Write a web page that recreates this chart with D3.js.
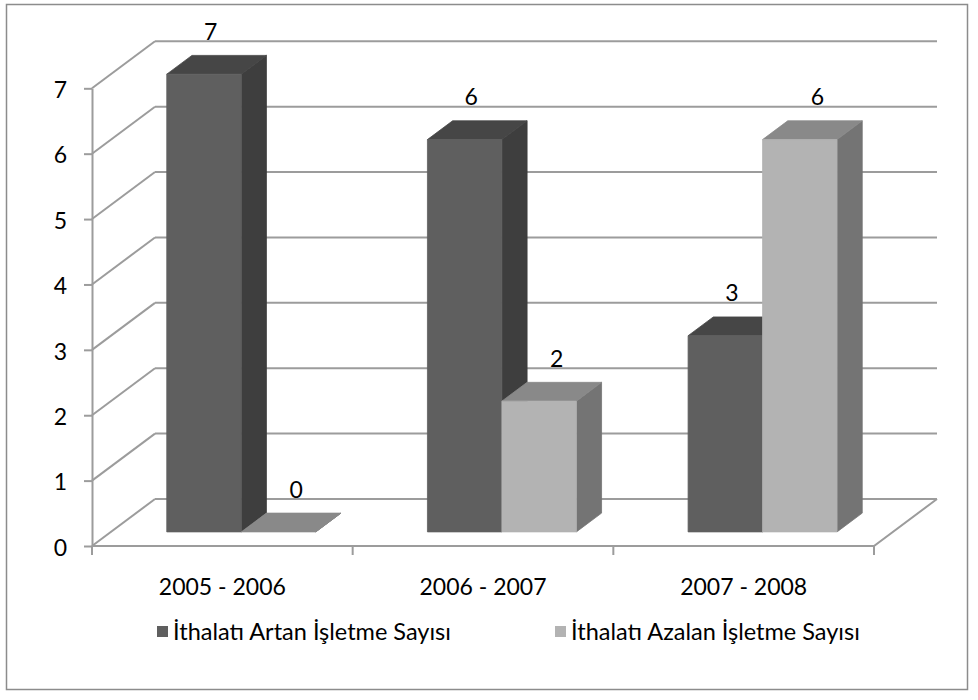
<!DOCTYPE html>
<html>
<head>
<meta charset="utf-8">
<script src="https://cdn.jsdelivr.net/npm/d3@7/dist/d3.min.js"></script>
<style>
  html, body { margin: 0; padding: 0; background: #fff; }
  text { font-family: Lato, "Noto Sans", sans-serif; fill: #000; }
</style>
</head>
<body>
<svg id="chart" width="978" height="700"></svg>
<script>
// Data
const categories = ["2005 - 2006", "2006 - 2007", "2007 - 2008"];
const seriesNames = ["İthalatı Artan İşletme Sayısı", "İthalatı Azalan İşletme Sayısı"];
const artan = [7, 6, 3];
const azalan = [0, 2, 6];
const yTicks = [0, 1, 2, 3, 4, 5, 6, 7];

const seriesValues = [artan, azalan];

// Face colours per series: front, top, side
const palette = [
  { front: "#5f5f5f", top: "#464646", side: "#3e3e3e" },
  { front: "#b3b3b3", top: "#898989", side: "#747474" }
];
const gridColor = "#9c9c9c";

const svg = d3.select("#chart");

// Outer chart border
svg.append("rect")
  .attr("x", 6.5).attr("y", 4.5).attr("width", 961).attr("height", 685)
  .attr("fill", "#fff").attr("stroke", "#8c8c8c").attr("stroke-width", 1.5);

// Oblique projection: front plane + depth offset
const depthX = 63, depthY = -47;
const x = d3.scaleBand().domain(categories).range([92, 874]).paddingInner(0).paddingOuter(0);
const xs = d3.scaleBand().domain(d3.range(seriesNames.length)).range([0, x.bandwidth()])
  .paddingInner(0).paddingOuter(0.75);
const y = d3.scaleLinear().domain([0, 7]).range([546, 88.3]);

// project a point (px at front, value v, depth fraction d)
const P = (px, v, d) => [px + d * depthX, y(v) + d * depthY];

const g = svg.append("g");

// Back wall gridlines
g.selectAll("line.back").data(yTicks).join("line")
  .attr("x1", d => P(x.range()[0], d, 1)[0]).attr("y1", d => P(0, d, 1)[1])
  .attr("x2", d => P(x.range()[1], d, 1)[0]).attr("y2", d => P(0, d, 1)[1])
  .attr("stroke", gridColor).attr("stroke-width", 2);

// Side wall gridlines
g.selectAll("line.side").data(yTicks).join("line")
  .attr("x1", d => P(x.range()[0], d, 0)[0]).attr("y1", d => P(0, d, 0)[1])
  .attr("x2", d => P(x.range()[0], d, 1)[0]).attr("y2", d => P(0, d, 1)[1])
  .attr("stroke", gridColor).attr("stroke-width", 2);

// Floor outline (front edge and right edge)
const fl = [P(x.range()[0], 0, 0), P(x.range()[1], 0, 0), P(x.range()[1], 0, 1)];
g.append("path").attr("d", d3.line()(fl))
  .attr("fill", "none").attr("stroke", gridColor).attr("stroke-width", 2);

// Category ticks at band boundaries
const bounds = categories.map(c => x(c)).concat([x.range()[1]]);
g.selectAll("line.ctick").data(bounds).join("line")
  .attr("x1", d => d).attr("x2", d => d)
  .attr("y1", y(0)).attr("y2", y(0) + 9)
  .attr("stroke", gridColor).attr("stroke-width", 2);

// Value axis
const yAxis = d3.axisLeft(y).tickValues(yTicks).tickFormat(d3.format("d"))
  .tickSize(8).tickSizeOuter(0).tickPadding(17);
const ya = g.append("g").attr("transform", `translate(${x.range()[0]},0)`).call(yAxis);
ya.select(".domain").attr("stroke", gridColor).attr("stroke-width", 2);
ya.selectAll(".tick line").attr("stroke", gridColor).attr("stroke-width", 2);
ya.selectAll(".tick text").attr("font-size", 23).attr("font-family", "Lato, sans-serif")
  .attr("fill", "#000").attr("dy", "0.4em");

// Category labels
const xAxis = d3.axisBottom(x).tickSize(0).tickPadding(33);
const xa = g.append("g").attr("transform", `translate(0,${y(0)})`).call(xAxis);
xa.select(".domain").remove();
xa.selectAll(".tick text").attr("font-size", 23).attr("font-family", "Lato, sans-serif")
  .attr("fill", "#000");

// Bars (drawn left to right so neighbours cover side faces)
const bars = [];
categories.forEach((c, ci) => {
  seriesValues.forEach((vals, si) => {
    bars.push({ c, ci, si, v: vals[ci] });
  });
});

const d0 = 0.3, d1 = 0.7;
const barG = g.append("g");
bars.forEach(b => {
  const xl = x(b.c) + xs(b.si), xr = xl + xs.bandwidth();
  const col = palette[b.si];
  const grp = barG.append("g");
  // side face
  grp.append("path").attr("d", d3.line()([P(xr, 0, d0), P(xr, 0, d1), P(xr, b.v, d1), P(xr, b.v, d0)]) + "Z")
    .attr("fill", col.side).attr("stroke", col.side).attr("stroke-width", 0.8);
  // top face
  grp.append("path").attr("d", d3.line()([P(xl, b.v, d0), P(xr, b.v, d0), P(xr, b.v, d1), P(xl, b.v, d1)]) + "Z")
    .attr("fill", col.top).attr("stroke", col.top).attr("stroke-width", 0.8);
  // front face
  if (b.v > 0) {
    grp.append("path").attr("d", d3.line()([P(xl, 0, d0), P(xr, 0, d0), P(xr, b.v, d0), P(xl, b.v, d0)]) + "Z")
      .attr("fill", col.front).attr("stroke", col.front).attr("stroke-width", 0.8);
  }
});

// Value labels above each bar's top face
const labelDx = [-6, 5];
g.selectAll("text.val").data(bars).join("text")
  .attr("class", "val")
  .attr("x", b => P(x(b.c) + xs(b.si) + xs.bandwidth() / 2, b.v, (d0 + d1) / 2)[0] + labelDx[b.si])
  .attr("y", b => P(0, b.v, (d0 + d1) / 2)[1] - 25)
  .attr("text-anchor", "middle").attr("font-size", 23)
  .text(b => b.v);

// Legend
const legendX = [157, 555];
const lg = svg.append("g");
seriesNames.forEach((name, i) => {
  lg.append("rect").attr("x", legendX[i]).attr("y", 626).attr("width", 11).attr("height", 11)
    .attr("fill", palette[i].front);
  lg.append("text").attr("x", legendX[i] + 16).attr("y", 640)
    .attr("font-size", 23.5).text(name);
});
</script>
</body>
</html>
